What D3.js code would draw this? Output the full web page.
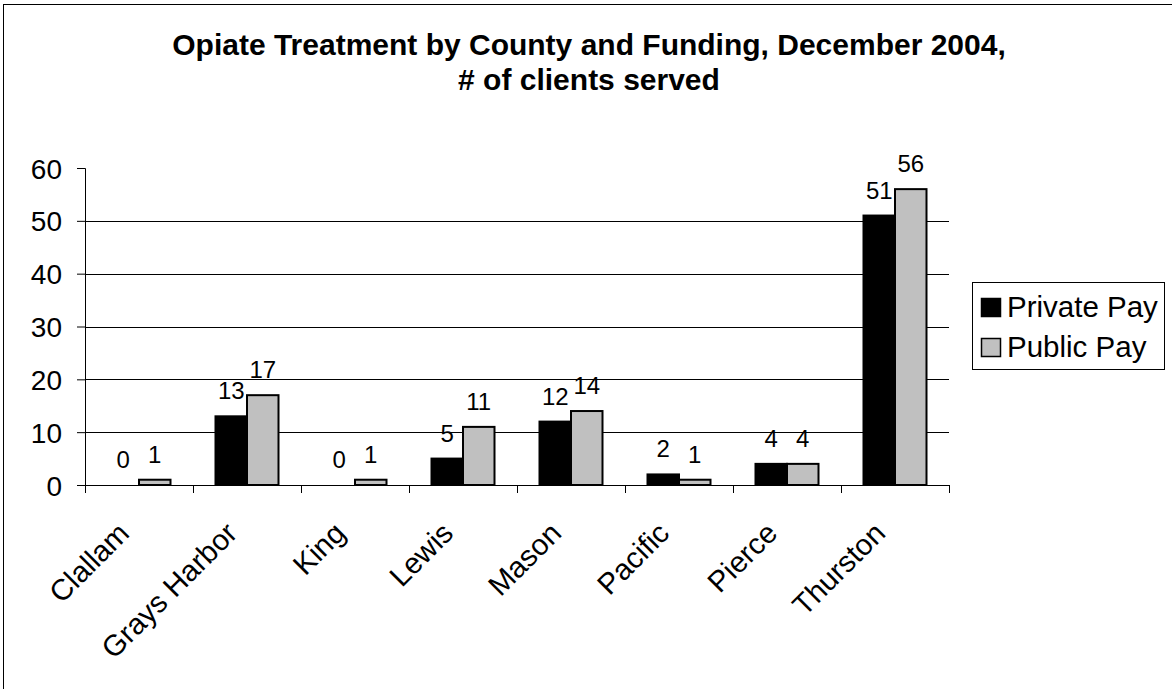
<!DOCTYPE html>
<html>
<head>
<meta charset="utf-8">
<script src="https://cdn.jsdelivr.net/npm/d3@7"></script>
<style>
  body { margin: 0; background: #fff; }
  svg text { font-family: Arial, "Liberation Sans", sans-serif; fill: #000; }
</style>
</head>
<body>
<svg id="chart" width="1172" height="689"></svg>
<script>
// chart data
var counties = ["Clallam", "Grays Harbor", "King", "Lewis", "Mason", "Pacific", "Pierce", "Thurston"];
var seriesNames = ["Private Pay", "Public Pay"];
var privatePay = [0, 13, 0, 5, 12, 2, 4, 51];
var publicPay = [1, 17, 1, 11, 14, 1, 4, 56];
var yTicks = [0, 10, 20, 30, 40, 50, 60];
var titleLines = ["Opiate Treatment by County and Funding, December 2004,", "# of clients served"];

var colors = { "Private Pay": "#000000", "Public Pay": "#c0c0c0" };

var rows = [];
for (var i = 0; i < counties.length; i++) {
    rows.push({ county: counties[i], "Private Pay": privatePay[i], "Public Pay": publicPay[i] });
}

var svg = d3.select("#chart");

// outer border of the chart area
svg.append("rect")
    .attr("x", 3.5).attr("y", 4.5)
    .attr("width", 1300).attr("height", 800)
    .attr("fill", "none")
    .attr("stroke", "#000")
    .attr("stroke-width", 1);

var plotLeft = 85, plotRight = 949, plotTop = 168, plotBottom = 485;

var x0 = d3.scaleBand().domain(counties).range([plotLeft, plotRight]);
var x1 = d3.scaleBand().domain(seriesNames).range([22.5, 85.5]);
var y = d3.scaleLinear().domain([0, 60]).range([plotBottom, plotTop]);

// title
svg.append("g").selectAll("text")
    .data(titleLines)
    .enter().append("text")
    .attr("x", 589)
    .attr("y", function (d, i) { return 55 + i * 35; })
    .attr("text-anchor", "middle")
    .style("font-size", "30px")
    .style("font-weight", "bold")
    .text(function (d) { return d; });

// gridlines (no line on the top tick)
svg.append("g").selectAll("line")
    .data(yTicks.filter(function (t) { return t > 0 && t < 60; }))
    .enter().append("line")
    .attr("x1", plotLeft).attr("x2", plotRight)
    .attr("y1", function (d) { return Math.round(y(d)) + 0.5; })
    .attr("y2", function (d) { return Math.round(y(d)) + 0.5; })
    .attr("stroke", "#000")
    .attr("stroke-width", 1);

// y axis
var yAxis = d3.axisLeft(y).tickValues(yTicks).tickSize(8).tickPadding(15);
var gy = svg.append("g")
    .attr("transform", "translate(" + plotLeft + ",0)")
    .call(yAxis);
gy.attr("font-family", null).attr("font-size", null);
gy.selectAll("text").style("font-size", "28px").attr("dy", "0.36em");
gy.selectAll("path, line").attr("stroke", "#000");

// bars
var groups = svg.append("g").selectAll("g")
    .data(rows)
    .enter().append("g")
    .attr("transform", function (d) { return "translate(" + x0(d.county) + ",0)"; });

groups.selectAll("rect")
    .data(function (d) { return seriesNames.map(function (s) { return { key: s, value: d[s] }; }); })
    .enter().append("rect")
    .attr("x", function (d) { return x1(d.key); })
    .attr("y", function (d) { return y(d.value); })
    .attr("width", x1.bandwidth())
    .attr("height", function (d) { return plotBottom - y(d.value); })
    .attr("fill", function (d) { return colors[d.key]; })
    .attr("stroke", "#000")
    .attr("stroke-width", 2);

groups.selectAll("text")
    .data(function (d) { return seriesNames.map(function (s) { return { key: s, value: d[s] }; }); })
    .enter().append("text")
    .attr("x", function (d) { return x1(d.key) + x1.bandwidth() / 2; })
    .attr("y", function (d) { return y(d.value) - 17; })
    .attr("text-anchor", "middle")
    .style("font-size", "24px")
    .text(function (d) { return d.value; });

// x axis: ticks between categories
var xAxisLine = svg.append("g");
xAxisLine.append("line")
    .attr("x1", plotLeft).attr("x2", plotRight)
    .attr("y1", plotBottom + 0.5).attr("y2", plotBottom + 0.5)
    .attr("stroke", "#000");
xAxisLine.selectAll(".tick")
    .data(counties.concat(["end"]))
    .enter().append("line")
    .attr("x1", function (d, i) { return Math.round(plotLeft + i * x0.step()) + 0.5; })
    .attr("x2", function (d, i) { return Math.round(plotLeft + i * x0.step()) + 0.5; })
    .attr("y1", plotBottom).attr("y2", plotBottom + 8)
    .attr("stroke", "#000");

svg.append("g").selectAll("text")
    .data(counties)
    .enter().append("text")
    .attr("transform", function (d) {
        return "translate(" + (x0(d) + x0.bandwidth() / 2 - 8) + "," + (plotBottom + 50) + ") rotate(-45)";
    })
    .attr("text-anchor", "end")
    .style("font-size", "29.5px")
    .text(function (d) { return d; });

// legend
var legend = svg.append("g").attr("transform", "translate(972,282)");
legend.append("rect")
    .attr("x", 0.5).attr("y", 0.5)
    .attr("width", 192).attr("height", 87)
    .attr("fill", "#fff")
    .attr("stroke", "#000");
var items = legend.selectAll(".item")
    .data(seriesNames)
    .enter().append("g")
    .attr("transform", function (d, i) { return "translate(0," + (i * 40) + ")"; });
items.append("rect")
    .attr("x", 9.5).attr("y", 16.5)
    .attr("width", 19).attr("height", 18)
    .attr("fill", function (d) { return colors[d]; })
    .attr("stroke", "#000")
    .attr("stroke-width", 1.5);
items.append("text")
    .attr("x", 35).attr("y", 35)
    .style("font-size", "29.5px")
    .text(function (d) { return d; });
</script>
</body>
</html>
